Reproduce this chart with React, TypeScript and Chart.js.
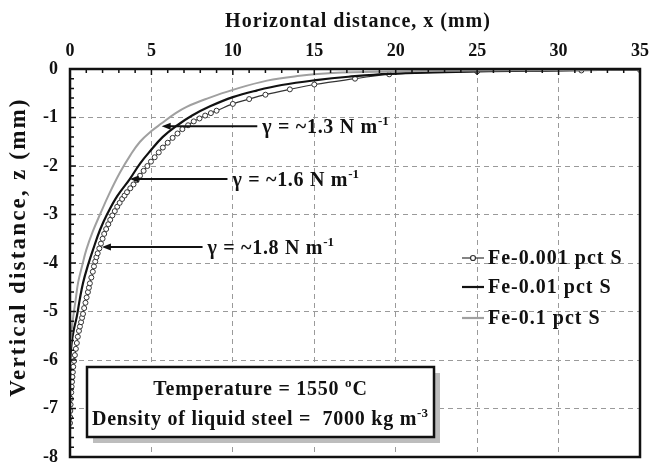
import React, { useEffect, useRef } from "react";
import { Chart, registerables } from "chart.js";
Chart.register(...registerables);

const FONT = "'Liberation Serif', 'DejaVu Serif', serif";

const seriesNames = ["Fe-0.001 pct S", "Fe-0.01 pct S", "Fe-0.1 pct S"];

// Fe-0.001 pct S (open circles)
const x001 = [0, 0.01, 0.02, 0.035, 0.05, 0.075, 0.1, 0.125, 0.15, 0.175, 0.2, 0.25, 0.3, 0.36, 0.42, 0.48, 0.55, 0.61, 0.68, 0.74, 0.8, 0.87, 0.95, 1.02, 1.1, 1.16, 1.22, 1.31, 1.4, 1.47, 1.55, 1.62, 1.7, 1.8, 1.9, 2.0, 2.1, 2.22, 2.35, 2.47, 2.6, 2.75, 2.9, 3.05, 3.2, 3.35, 3.5, 3.7, 3.9, 4.1, 4.3, 4.52, 4.75, 4.97, 5.2, 5.45, 5.7, 6.0, 6.3, 6.6, 6.9, 7.25, 7.6, 7.95, 8.3, 8.65, 9.0, 10, 11, 12, 13.5, 15, 17.5, 19.6, 25, 31.4, 35];
const z001 = [-7.3, -7.18, -7.05, -6.92, -6.8, -6.67, -6.55, -6.45, -6.35, -6.25, -6.14, -6.02, -5.9, -5.77, -5.65, -5.52, -5.4, -5.31, -5.22, -5.13, -5.05, -4.93, -4.82, -4.71, -4.6, -4.51, -4.42, -4.3, -4.18, -4.07, -3.97, -3.88, -3.8, -3.7, -3.6, -3.5, -3.4, -3.3, -3.2, -3.11, -3.02, -2.93, -2.84, -2.76, -2.68, -2.61, -2.54, -2.46, -2.38, -2.29, -2.2, -2.1, -2.0, -1.91, -1.82, -1.72, -1.62, -1.52, -1.42, -1.33, -1.24, -1.16, -1.08, -1.02, -0.96, -0.91, -0.86, -0.72, -0.62, -0.53, -0.42, -0.32, -0.2, -0.11, -0.05, -0.03, -0.02];

// Fe-0.01 pct S (black line)
const x01 = [0, 0.1, 0.25, 0.42, 0.6, 0.8, 1.1, 1.41, 1.84, 2.3, 2.9, 3.67, 4.3, 4.9, 5.7, 6.55, 7.5, 8.6, 10, 11.5, 13, 15.1, 17.1, 19.6, 25, 30, 35];
const z01 = [-6.05, -5.65, -5.35, -5.1, -4.75, -4.41, -4.05, -3.73, -3.32, -2.98, -2.62, -2.27, -1.95, -1.7, -1.4, -1.17, -0.96, -0.77, -0.58, -0.44, -0.33, -0.23, -0.16, -0.1, -0.05, -0.03, -0.01];

// Fe-0.1 pct S (gray line)
const x1 = [0, 0.1, 0.2, 0.35, 0.5, 0.75, 1.0, 1.4, 1.84, 2.4, 3.06, 3.7, 4.3, 5.0, 5.63, 6.4, 7.16, 8.5, 10, 12.1, 14.1, 16.1, 20, 25, 30, 35];
const z1 = [-5.8, -5.4, -5.1, -4.75, -4.4, -4.05, -3.73, -3.35, -3.0, -2.58, -2.14, -1.78, -1.5, -1.28, -1.12, -0.93, -0.78, -0.6, -0.43, -0.24, -0.14, -0.08, -0.05, -0.03, -0.02, -0.01];

const xTicks = [0, 5, 10, 15, 20, 25, 30, 35];
const zTicks = [0, -1, -2, -3, -4, -5, -6, -7, -8];

const xTitle = "Horizontal distance, x (mm)";
const yTitle = "Vertical distance, z (mm)";

// annotations: surface tension values
const gammaValues = ["1.3", "1.6", "1.8"];
const arrowTipX = [5.63, 3.67, 1.96];
const arrowTailX = [11.5, 9.67, 8.14];
const arrowZ = [-1.18, -2.27, -3.67];

const infoLines = ["Temperature = 1550 ", "Density of liquid steel =  7000 kg m"];

const toPts = (xs: number[], zs: number[]) => xs.map((x, i) => ({ x, y: zs[i] }));

function setFont(ctx: any, size: number, ls: number) {
  ctx.font = `bold ${size}px ${FONT}`;
  ctx.letterSpacing = `${ls}px`;
}

function drawSup(ctx: any, main: string, sup: string, x: number, y: number, size: number, ls: number, align: "left" | "center", tail = "") {
  const supSize = Math.round(size * 0.65);
  setFont(ctx, size, ls);
  const wMain = ctx.measureText(main).width;
  const wTail = tail ? ctx.measureText(tail).width : 0;
  setFont(ctx, supSize, 0);
  const wSup = ctx.measureText(sup).width + 1;
  const total = wMain + wSup + wTail;
  let sx = align === "center" ? x - total / 2 : x;
  ctx.textAlign = "left";
  ctx.textBaseline = "alphabetic";
  setFont(ctx, size, ls);
  ctx.fillText(main, sx, y);
  sx += wMain;
  setFont(ctx, supSize, 0);
  ctx.fillText(sup, sx, y - size * 0.42);
  sx += wSup;
  if (tail) {
    setFont(ctx, size, ls);
    ctx.fillText(tail, sx, y);
  }
}

const overlay = {
  id: "overlay",
  afterDraw(chart: any) {
    const { ctx, chartArea: a, scales } = chart;
    const xs = scales.x;
    const ys = scales.y;
    ctx.save();
    ctx.strokeStyle = "#111";
    ctx.fillStyle = "#111";

    // inward ticks
    ctx.lineWidth = 1.5;
    ctx.beginPath();
    for (let v = 0; v <= 35; v++) {
      const px = xs.getPixelForValue(v);
      const len = v % 5 === 0 ? 6 : 4;
      ctx.moveTo(px, a.top);
      ctx.lineTo(px, a.top + len);
    }
    for (let i = 0; i <= 40; i++) {
      const py = ys.getPixelForValue(-i * 0.2);
      const len = i % 5 === 0 ? 6 : 4;
      ctx.moveTo(a.left, py);
      ctx.lineTo(a.left + len, py);
    }
    ctx.stroke();

    // frame
    ctx.lineWidth = 2.5;
    ctx.strokeRect(a.left, a.top, a.right - a.left, a.bottom - a.top);

    // axis titles
    ctx.fillStyle = "#111";
    setFont(ctx, 20, 1);
    ctx.textAlign = "center";
    ctx.textBaseline = "alphabetic";
    ctx.fillText(xTitle, (a.left + a.right) / 2 + 3, 27);
    ctx.save();
    ctx.translate(19, a.top + 178);
    ctx.rotate(-Math.PI / 2);
    setFont(ctx, 23, 2.2);
    ctx.textBaseline = "middle";
    ctx.fillText(yTitle, 0, 0);
    ctx.restore();

    // arrows + labels
    for (let i = 0; i < gammaValues.length; i++) {
      const tx = xs.getPixelForValue(arrowTipX[i]);
      const ex = xs.getPixelForValue(arrowTailX[i]);
      const py = ys.getPixelForValue(arrowZ[i]);
      ctx.lineWidth = 2;
      ctx.beginPath();
      ctx.moveTo(ex, py);
      ctx.lineTo(tx + 6, py);
      ctx.stroke();
      ctx.beginPath();
      ctx.moveTo(tx, py);
      ctx.lineTo(tx + 9, py - 3.5);
      ctx.lineTo(tx + 9, py + 3.5);
      ctx.closePath();
      ctx.fill();
      drawSup(ctx, `\u03b3 = ~${gammaValues[i]} N m`, "-1", ex + 5, py + 7, 20, 0.7, "left");
    }

    // info box
    const bx = a.left + 17, by = a.top + 298, bw = 347, bh = 70;
    ctx.fillStyle = "#bdbdbd";
    ctx.fillRect(bx + 6, by + 6, bw, bh);
    ctx.fillStyle = "#fff";
    ctx.fillRect(bx, by, bw, bh);
    ctx.lineWidth = 2.5;
    ctx.strokeStyle = "#111";
    ctx.strokeRect(bx, by, bw, bh);
    ctx.fillStyle = "#111";
    drawSup(ctx, infoLines[0], "o", bx + bw / 2, by + 28, 20, 0.75, "center", "C");
    drawSup(ctx, infoLines[1], "-3", bx + bw / 2, by + 58, 20, 0.75, "center");

    // legend
    const lx = a.left + 392;
    const rows = [a.top + 189, a.top + 218, a.top + 249];
    const colors = ["#333", "#111", "#a0a0a0"];
    for (let i = 0; i < 3; i++) {
      ctx.strokeStyle = colors[i];
      ctx.lineWidth = i === 0 ? 1.2 : 2.2;
      ctx.beginPath();
      ctx.moveTo(lx, rows[i]);
      ctx.lineTo(lx + 22, rows[i]);
      ctx.stroke();
      if (i === 0) {
        ctx.fillStyle = "#fff";
        ctx.beginPath();
        ctx.arc(lx + 11, rows[i], 2.5, 0, Math.PI * 2);
        ctx.fill();
        ctx.stroke();
      }
      ctx.fillStyle = "#111";
      setFont(ctx, 20, 1);
      ctx.textAlign = "left";
      ctx.textBaseline = "middle";
      ctx.fillText(seriesNames[i], lx + 26, rows[i] + 1);
    }
    ctx.restore();
  },
};

export default function App() {
  const ref = useRef<HTMLCanvasElement>(null);
  useEffect(() => {
    if (!ref.current) return;
    const gridColor = (c: any, edges: number[]) =>
      edges.includes(c.tick?.value) ? "rgba(0,0,0,0)" : "#9a9a9a";
    const zeroPad = (s: any) => {
      s.paddingTop = 0;
      s.paddingBottom = 0;
      s.paddingLeft = 0;
      s.paddingRight = 0;
    };
    const chart = new Chart(ref.current, {
      type: "scatter",
      data: {
        datasets: [
          {
            label: seriesNames[2],
            data: toPts(x1, z1),
            showLine: true,
            borderColor: "#a0a0a0",
            borderWidth: 2,
            pointRadius: 0,
            tension: 0.4,
          },
          {
            label: seriesNames[1],
            data: toPts(x01, z01),
            showLine: true,
            borderColor: "#111",
            borderWidth: 2.2,
            pointRadius: 0,
            tension: 0.4,
          },
          {
            label: seriesNames[0],
            data: toPts(x001, z001),
            showLine: true,
            borderColor: "#333",
            borderWidth: 1.2,
            pointRadius: 2.5,
            pointBorderWidth: 1,
            pointBackgroundColor: "#fff",
            pointBorderColor: "#333",
            tension: 0.4,
          },
        ],
      },
      options: {
        responsive: false,
        animation: false,
        devicePixelRatio: 1,
        layout: { padding: { left: 0, top: 0, right: 10, bottom: 6 } },
        plugins: { legend: { display: false }, tooltip: { enabled: false } },
        scales: {
          x: {
            type: "linear",
            position: "top",
            min: 0,
            max: 35,
            afterBuildTicks: (s: any) => {
              s.ticks = xTicks.map((v) => ({ value: v }));
            },
            afterFit: (s: any) => {
              s.height = 69;
              zeroPad(s);
            },
            ticks: { color: "#111", font: { family: FONT, size: 18, weight: "bold" }, padding: 7, maxRotation: 0 },
            grid: { color: (c: any) => gridColor(c, [0, 35]), lineWidth: 1, drawTicks: false },
            border: { display: false, dash: [5, 4] },
          },
          y: {
            type: "linear",
            min: -8,
            max: 0,
            afterBuildTicks: (s: any) => {
              s.ticks = zTicks.map((v) => ({ value: v }));
            },
            afterFit: (s: any) => {
              s.width = 70;
              zeroPad(s);
            },
            ticks: { color: "#111", font: { family: FONT, size: 18, weight: "bold" }, padding: 12 },
            grid: { color: (c: any) => gridColor(c, [0, -8]), lineWidth: 1, drawTicks: false },
            border: { display: false, dash: [5, 4] },
          },
        },
      },
      plugins: [overlay],
    } as any);
    return () => chart.destroy();
  }, []);
  return (
    <div style={{ position: "fixed", left: 0, top: 0, width: 650, height: 463, background: "#fff" }}>
      <canvas ref={ref} width={650} height={463} />
    </div>
  );
}
